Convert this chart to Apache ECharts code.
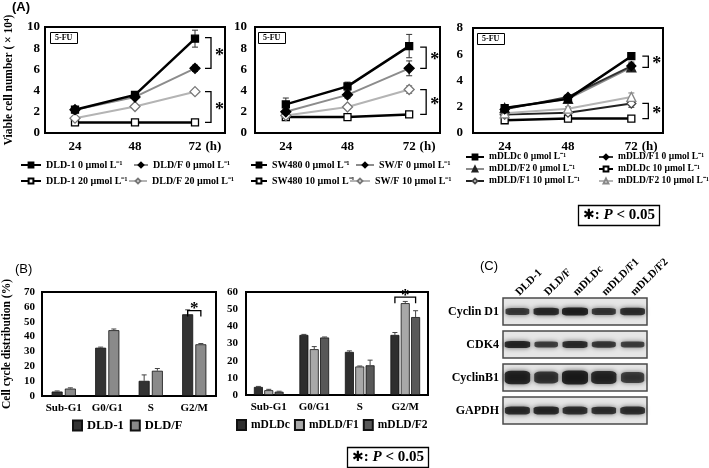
<!DOCTYPE html>
<html><head><meta charset="utf-8">
<script src="https://cdn.jsdelivr.net/npm/echarts@6/dist/echarts.min.js"></script>
<style>html,body{margin:0;padding:0;background:#fff}#c{width:709px;height:468px}</style>
</head><body><div id="c"></div>
<script>
const SERIF = '"Liberation Serif","Times New Roman",serif';
const SANS = '"Liberation Sans",Arial,sans-serif';

// ---------- Panel A data ----------
const hours = ['24', '48', '72'];
// A1
const dld1_0 = [2.2, 3.6, 8.9];     const dld1_0_err = [0.3, 0.2, 0.8];
const dldF_0 = [2.2, 3.4, 6.1];     const dldF_0_err = [0.2, 0.2, 0.3];
const dld1_20 = [1.0, 1.0, 1.0];    const dld1_20_err = [0.3, 0.1, 0.1];
const dldF_20 = [1.4, 2.5, 3.9];    const dldF_20_err = [0.2, 0.15, 0.15];
// A2
const sw480_0 = [2.7, 4.4, 8.2];    const sw480_0_err = [0.6, 0.4, 1.1];
const swF_0 = [2.0, 3.6, 6.1];      const swF_0_err = [0.3, 0.3, 0.7];
const sw480_10 = [1.5, 1.5, 1.75];  const sw480_10_err = [0.2, 0.1, 0.25];
const swF_10 = [1.65, 2.45, 4.1];   const swF_10_err = [0.3, 0.2, 0.35];
// A3
const mc_0 = [1.9, 2.6, 5.85];      const mc_0_err = [0.2, 0.15, 0.25];
const mF1_0 = [1.8, 2.75, 5.1];     const mF1_0_err = [0.15, 0.15, 0.3];
const mF2_0 = [1.9, 2.6, 5.0];      const mF2_0_err = [0.15, 0.1, 0.3];
const mc_10 = [0.97, 1.1, 1.1];     const mc_10_err = [0.1, 0.05, 0.15];
const mF1_10 = [1.4, 1.55, 2.25];   const mF1_10_err = [0.1, 0.1, 0.3];
const mF2_10 = [1.5, 1.85, 2.75];   const mF2_10_err = [0.15, 0.15, 0.3];
// significance brackets [category index, upper value, lower value]
const a1_brackets = [[2, 9.0, 6.1], [2, 3.9, 1.0]];
const a2_brackets = [[2, 8.1, 6.1], [2, 4.1, 1.75]];
const a3_brackets = [[2, 5.85, 5.0], [2, 2.25, 1.1]];

// ---------- Panel B data ----------
const phases = ['Sub-G1', 'G0/G1', 'S', 'G2/M'];
const b_dld1 = [3.0, 32.5, 10.2, 55.0];  const b_dld1_err = [0.4, 0.4, 4.0, 3.0];
const b_dldF = [5.0, 44.3, 17.0, 34.8];  const b_dldF_err = [0.5, 0.8, 1.5, 0.5];
const b_mc = [4.7, 35.0, 25.1, 35.0];    const b_mc_err = [0.3, 0.3, 0.6, 1.4];
const b_mF1 = [2.8, 26.7, 16.6, 53.5];   const b_mF1_err = [0.5, 1.5, 0.3, 1.0];
const b_mF2 = [1.9, 33.5, 17.3, 45.4];   const b_mF2_err = [0.3, 0.3, 3.0, 3.7];
// [category index, bracket value, from series, to series]
const b1_bracket = [[3, 57.5, 0, 1]];
const b2_bracket = [[3, 57.0, 0, 2]];

// ---------- Panel C data (relative band intensity) ----------
const lanes = ['DLD-1', 'DLD/F', 'mDLDc', 'mDLD/F1', 'mDLD/F2'];
const proteins = ['Cyclin D1', 'CDK4', 'CyclinB1', 'GAPDH'];
const cyclinD1 = [0.55, 0.85, 1.0, 0.6, 0.75];
const cdk4 = [0.9, 0.5, 0.8, 0.6, 0.5];
const cyclinB1 = [0.9, 0.6, 1.0, 0.85, 0.45];
const gapdh = [0.8, 0.85, 0.75, 0.7, 0.75];

// ---------- helpers ----------
const bold = (fs, extra) => Object.assign({fontFamily: SERIF, fontWeight: 'bold', fontSize: fs, color: '#000'}, extra || {});

function ln(name, data, gi, lineColor, lw, symbol, fill, border, size, z) {
  return {type: 'line', name, data, xAxisIndex: gi, yAxisIndex: gi, symbol, symbolSize: size,
    lineStyle: {color: lineColor, width: lw}, itemStyle: {color: fill, borderColor: border, borderWidth: 1.3},
    z: z || 3, silent: true};
}
function errLine(vals, errs, gi, color) {
  return {type: 'custom', xAxisIndex: gi, yAxisIndex: gi, silent: true, z: 2,
    data: vals.map((v, i) => [i, v, errs[i]]),
    renderItem(p, api) {
      const x = api.value(0), v = api.value(1), e = api.value(2);
      const t = api.coord([x, v + e]), b = api.coord([x, v - e]);
      const cx = t[0], st = {stroke: color, lineWidth: 1};
      return {type: 'group', children: [
        {type: 'line', shape: {x1: cx, y1: t[1], x2: cx, y2: b[1]}, style: st},
        {type: 'line', shape: {x1: cx - 3, y1: t[1], x2: cx + 3, y2: t[1]}, style: st},
        {type: 'line', shape: {x1: cx - 3, y1: b[1], x2: cx + 3, y2: b[1]}, style: st}]};
    }};
}
function bracketA(data, gi, dx) {
  return {type: 'custom', xAxisIndex: gi, yAxisIndex: gi, silent: true, z: 4, data,
    renderItem(p, api) {
      const x = api.value(0);
      const t = api.coord([x, api.value(1)]), b = api.coord([x, api.value(2)]);
      const bx = t[0] + dx;
      return {type: 'group', children: [
        {type: 'polyline', shape: {points: [[bx - 6, t[1]], [bx, t[1]], [bx, b[1]], [bx - 6, b[1]]]},
          style: {stroke: '#000', lineWidth: 1.3, fill: null}},
        {type: 'text', style: {text: '*', x: bx + 4, y: (t[1] + b[1]) / 2 + 3, fill: '#000',
          font: 'bold 18px ' + SERIF, align: 'left', verticalAlign: 'middle'}}]};
    }};
}
function bars(name, data, gi, color, bw, gap) {
  return {type: 'bar', name, data, xAxisIndex: gi, yAxisIndex: gi, barWidth: bw, barGap: gap,
    itemStyle: {color, borderColor: '#111', borderWidth: 0.8}, silent: true};
}
function errBar(vals, errs, gi, idx, n, step) {
  return {type: 'custom', xAxisIndex: gi, yAxisIndex: gi, silent: true, z: 3,
    data: vals.map((v, i) => [i, v, errs[i]]),
    renderItem(p, api) {
      const x = api.value(0), v = api.value(1), e = api.value(2);
      const t = api.coord([x, v + e]), b = api.coord([x, v]);
      const cx = t[0] + (idx - (n - 1) / 2) * step, st = {stroke: '#444', lineWidth: 1};
      return {type: 'group', children: [
        {type: 'line', shape: {x1: cx, y1: t[1], x2: cx, y2: b[1]}, style: st},
        {type: 'line', shape: {x1: cx - 2.5, y1: t[1], x2: cx + 2.5, y2: t[1]}, style: st}]};
    }};
}
function bracketB(data, gi, n, step) {
  return {type: 'custom', xAxisIndex: gi, yAxisIndex: gi, silent: true, z: 4, data,
    renderItem(p, api) {
      const c = api.coord([api.value(0), api.value(1)]);
      const x1 = c[0] + (api.value(2) - (n - 1) / 2) * step;
      const x2 = c[0] + (api.value(3) - (n - 1) / 2) * step;
      return {type: 'group', children: [
        {type: 'polyline', shape: {points: [[x1, c[1] + 6], [x1, c[1]], [x2, c[1]], [x2, c[1] + 6]]},
          style: {stroke: '#000', lineWidth: 1.3, fill: null}},
        {type: 'text', style: {text: '*', x: (x1 + x2) / 2, y: c[1] - 2, fill: '#000',
          font: 'bold 17px ' + SERIF, align: 'center', verticalAlign: 'middle'}}]};
    }};
}
function lg(name, left, top, iw, fs) {
  return {data: [name], left, top, itemWidth: iw, itemHeight: 6, padding: 0,
    selectedMode: false, textStyle: bold(fs || 10)};
}

// ---------- axes ----------
const gridBase = {show: true, borderColor: '#000', borderWidth: 2, containLabel: false};
const grids = [
  Object.assign({left: 45, top: 27, width: 180, height: 106}, gridBase),
  Object.assign({left: 255, top: 27, width: 185, height: 106}, gridBase),
  Object.assign({left: 473, top: 28, width: 190, height: 105}, gridBase),
  Object.assign({left: 38, top: 292, width: 178, height: 104}, gridBase),
  Object.assign({left: 246, top: 292, width: 182, height: 103}, gridBase),
  {left: 503, top: 295, width: 144, height: 132, show: false}
];
function xA(gi, data, hName, nameGap) {
  return {type: 'category', gridIndex: gi, data, axisTick: {show: false},
    axisLine: {lineStyle: {color: '#000', width: 2}}, axisLabel: bold(13, {margin: 7}),
    name: hName, nameLocation: 'end', nameGap,
    nameTextStyle: bold(13, {verticalAlign: 'top', padding: [7, 0, 0, 0]})};
}
function yA(gi, max, interval, fs, margin, extra) {
  return Object.assign({type: 'value', gridIndex: gi, min: 0, max, interval,
    axisLine: {show: false}, axisTick: {show: false}, splitLine: {show: false},
    axisLabel: bold(fs, {margin})}, extra || {});
}
const xAxes = [
  xA(0, hours, '(h)', -22),
  xA(1, hours, '(h)', -22),
  xA(2, hours, '(h)', -27),
  {type: 'category', gridIndex: 3, data: phases, axisTick: {show: false},
    axisLine: {lineStyle: {color: '#000', width: 2}}, axisLabel: bold(11, {margin: 7, interval: 0})},
  {type: 'category', gridIndex: 4, data: phases, axisTick: {show: false},
    axisLine: {lineStyle: {color: '#000', width: 2}}, axisLabel: bold(11, {margin: 7, interval: 0})},
  {type: 'category', gridIndex: 5, data: lanes, position: 'top', axisTick: {show: false},
    axisLine: {show: false}, axisLabel: bold(11, {rotate: -45, margin: 1, interval: 0})}
];
const yAxes = [
  yA(0, 10, 2, 13, 5, {name: 'Viable cell number ( × 10⁴)', nameLocation: 'middle', nameGap: 30,
    nameTextStyle: bold(11.5)}),
  yA(1, 10, 2, 13, 8),
  yA(2, 8, 2, 13, 10),
  yA(3, 70, 10, 11, 7, {name: 'Cell cycle distribution (%)', nameLocation: 'middle', nameGap: 29,
    nameTextStyle: bold(11.5)}),
  yA(4, 60, 10, 11, 8),
  {type: 'category', gridIndex: 5, data: proteins, inverse: true, axisTick: {show: false},
    axisLine: {show: false}, axisLabel: bold(12, {margin: 4})}
];

// ---------- series ----------
const G = '#8c8c8c', LG = '#b4b4b4';
const series = [
  // A1
  errLine(dld1_0, dld1_0_err, 0, '#333'), errLine(dldF_0, dldF_0_err, 0, '#333'),
  errLine(dld1_20, dld1_20_err, 0, '#333'), errLine(dldF_20, dldF_20_err, 0, '#666'),
  ln('DLD-1 20 µmol L⁻¹', dld1_20, 0, '#000', 2.5, 'rect', '#fff', '#000', 7),
  ln('DLD/F 20 µmol L⁻¹', dldF_20, 0, LG, 2, 'diamond', '#fff', '#777', 10),
  ln('DLD/F 0 µmol L⁻¹', dldF_0, 0, G, 2, 'diamond', '#000', '#000', 10),
  ln('DLD-1 0 µmol L⁻¹', dld1_0, 0, '#000', 2.5, 'rect', '#000', '#000', 7, 4),
  bracketA(a1_brackets, 0, 16),
  // A2
  errLine(sw480_0, sw480_0_err, 1, '#333'), errLine(swF_0, swF_0_err, 1, '#333'),
  errLine(sw480_10, sw480_10_err, 1, '#333'), errLine(swF_10, swF_10_err, 1, '#666'),
  ln('SW480 10 µmol L⁻¹', sw480_10, 1, '#000', 2.5, 'rect', '#fff', '#000', 7),
  ln('SW/F 10 µmol L⁻¹', swF_10, 1, LG, 2, 'diamond', '#fff', '#777', 10),
  ln('SW/F 0 µmol L⁻¹', swF_0, 1, G, 2, 'diamond', '#000', '#000', 10),
  ln('SW480 0 µmol L⁻¹', sw480_0, 1, '#000', 2.5, 'rect', '#000', '#000', 7, 4),
  bracketA(a2_brackets, 1, 17),
  // A3
  errLine(mc_0, mc_0_err, 2, '#333'), errLine(mF1_0, mF1_0_err, 2, '#333'),
  errLine(mF2_0, mF2_0_err, 2, '#333'), errLine(mc_10, mc_10_err, 2, '#333'),
  errLine(mF1_10, mF1_10_err, 2, '#555'), errLine(mF2_10, mF2_10_err, 2, '#777'),
  ln('mDLDc 10 µmol L⁻¹', mc_10, 2, '#000', 2.5, 'rect', '#fff', '#000', 7),
  ln('mDLD/F1 10 µmol L⁻¹', mF1_10, 2, '#222', 2, 'diamond', '#fff', '#444', 9),
  ln('mDLD/F2 10 µmol L⁻¹', mF2_10, 2, LG, 2, 'triangle', '#fff', '#888', 9),
  ln('mDLD/F2 0 µmol L⁻¹', mF2_0, 2, G, 2, 'triangle', '#222', '#222', 9),
  ln('mDLD/F1 0 µmol L⁻¹', mF1_0, 2, '#333', 2, 'diamond', '#000', '#000', 9),
  ln('mDLDc 0 µmol L⁻¹', mc_0, 2, '#000', 2.5, 'rect', '#000', '#000', 7, 4),
  bracketA(a3_brackets, 2, 17),
  // B1
  bars('DLD-1', b_dld1, 3, '#333', 11, '20%'), bars('DLD/F', b_dldF, 3, '#8a8a8a', 11, '20%'),
  errBar(b_dld1, b_dld1_err, 3, 0, 2, 13.2), errBar(b_dldF, b_dldF_err, 3, 1, 2, 13.2),
  bracketB(b1_bracket, 3, 2, 13.2),
  // B2
  bars('mDLDc', b_mc, 4, '#2e2e2e', 9, '15%'), bars('mDLD/F1', b_mF1, 4, '#a8a8a8', 9, '15%'),
  bars('mDLD/F2', b_mF2, 4, '#585858', 9, '15%'),
  errBar(b_mc, b_mc_err, 4, 0, 3, 10.35), errBar(b_mF1, b_mF1_err, 4, 1, 3, 10.35),
  errBar(b_mF2, b_mF2_err, 4, 2, 3, 10.35),
  bracketB(b2_bracket, 4, 3, 10.35),
  // C: blot frames
  {type: 'custom', xAxisIndex: 5, yAxisIndex: 5, silent: true, z: 1,
    data: proteins.map((p, i) => [0, i]),
    renderItem(p, api) {
      const i = api.value(1);
      const c0 = api.coord([0, i]), c4 = api.coord([lanes.length - 1, i]);
      const sz = api.size([1, 1]);
      const x0 = c0[0] - sz[0] / 2, x1 = c4[0] + sz[0] / 2, h = sz[1] * 0.82;
      return {type: 'rect', shape: {x: x0, y: c0[1] - h / 2, width: x1 - x0, height: h},
        style: {fill: '#e6e6e6', stroke: '#4a4a4a', lineWidth: 1.5}};
    }},
  // C: bands
  {type: 'scatter', xAxisIndex: 5, yAxisIndex: 5, silent: true, z: 3, symbol: 'roundRect',
    data: [cyclinD1, cdk4, cyclinB1, gapdh].flatMap((row, pi) => row.map((v, li) => [li, pi, v])),
    symbolSize: (v) => { const hb = [7, 6.5, 12, 7.5][v[1]]; return [21 + 5 * v[2], hb * (0.75 + 0.4 * v[2])]; },
    itemStyle: {color: (p) => 'rgba(8,8,8,' + (0.65 + 0.35 * p.data[2]).toFixed(2) + ')',
      shadowBlur: 5, shadowColor: 'rgba(0,0,0,0.75)'}}
];

const titleTxt = (text, left, top, ts) => ({text, left, top, padding: 0, textStyle: ts});
const fuBox = (left, top) => ({text: '5-FU', left, top, padding: [2, 5], borderColor: '#000', borderWidth: 1,
  textStyle: bold(8)});
const pRich = {
  s: {fontFamily: '"DejaVu Sans",sans-serif', fontWeight: 'bold', fontSize: 14, color: '#000'},
  t: {fontFamily: SERIF, fontWeight: 'bold', fontSize: 15, color: '#000'},
  p: {fontFamily: SERIF, fontWeight: 'bold', fontStyle: 'italic', fontSize: 15, color: '#000'}
};
const pBox = (left, top) => ({text: '{s|✱}{t|: }{p|P}{t| < 0.05}', left, top, padding: [3, 5],
  borderColor: '#000', borderWidth: 1.3, textStyle: {rich: pRich}});

const option = {
  animation: false,
  backgroundColor: '#fff',
  title: [
    titleTxt('(A)', 12, 1, {fontFamily: SANS, fontWeight: 'bold', fontSize: 13, color: '#000'}),
    titleTxt('(B)', 15, 263, {fontFamily: SANS, fontWeight: 'normal', fontSize: 13, color: '#000'}),
    titleTxt('(C)', 480, 260, {fontFamily: SANS, fontWeight: 'normal', fontSize: 13, color: '#000'}),
    fuBox(50, 32), fuBox(258, 32), fuBox(477, 33),
    pBox(578, 205), pBox(347, 447)
  ],
  grid: grids, xAxis: xAxes, yAxis: yAxes,
  legend: [
    lg('DLD-1 0 µmol L⁻¹', 20, 160, 20), lg('DLD/F 0 µmol L⁻¹', 133, 160, 14),
    lg('DLD-1 20 µmol L⁻¹', 20, 176, 20), lg('DLD/F 20 µmol L⁻¹', 128, 176, 18),
    lg('SW480 0 µmol L⁻¹', 250, 160, 16), lg('SW/F 0 µmol L⁻¹', 355, 160, 18),
    lg('SW480 10 µmol L⁻¹', 250, 176, 16), lg('SW/F 10 µmol L⁻¹', 349, 176, 20),
    lg('mDLDc 0 µmol L⁻¹', 465, 152, 18, 9.5), lg('mDLD/F1 0 µmol L⁻¹', 598, 152, 14, 9.5),
    lg('mDLD/F2 0 µmol L⁻¹', 465, 164, 18, 9.5), lg('mDLDc 10 µmol L⁻¹', 598, 164, 14, 9.5),
    lg('mDLD/F1 10 µmol L⁻¹', 465, 176, 18, 9.5), lg('mDLD/F2 10 µmol L⁻¹', 598, 176, 14, 9.5),
    {data: ['DLD-1', 'DLD/F'], left: 72, top: 419, itemWidth: 9, itemHeight: 10, itemGap: 6,
      padding: 0, icon: 'rect', selectedMode: false, textStyle: bold(12.5)},
    {data: ['mDLDc', 'mDLD/F1', 'mDLD/F2'], left: 236, top: 419, itemWidth: 9, itemHeight: 10, itemGap: 4,
      padding: 0, icon: 'rect', selectedMode: false, textStyle: bold(11.5)}
  ],
  series
};
const chart = echarts.init(document.getElementById('c'), null, {renderer: 'canvas'});
chart.setOption(option);
</script></body></html>
